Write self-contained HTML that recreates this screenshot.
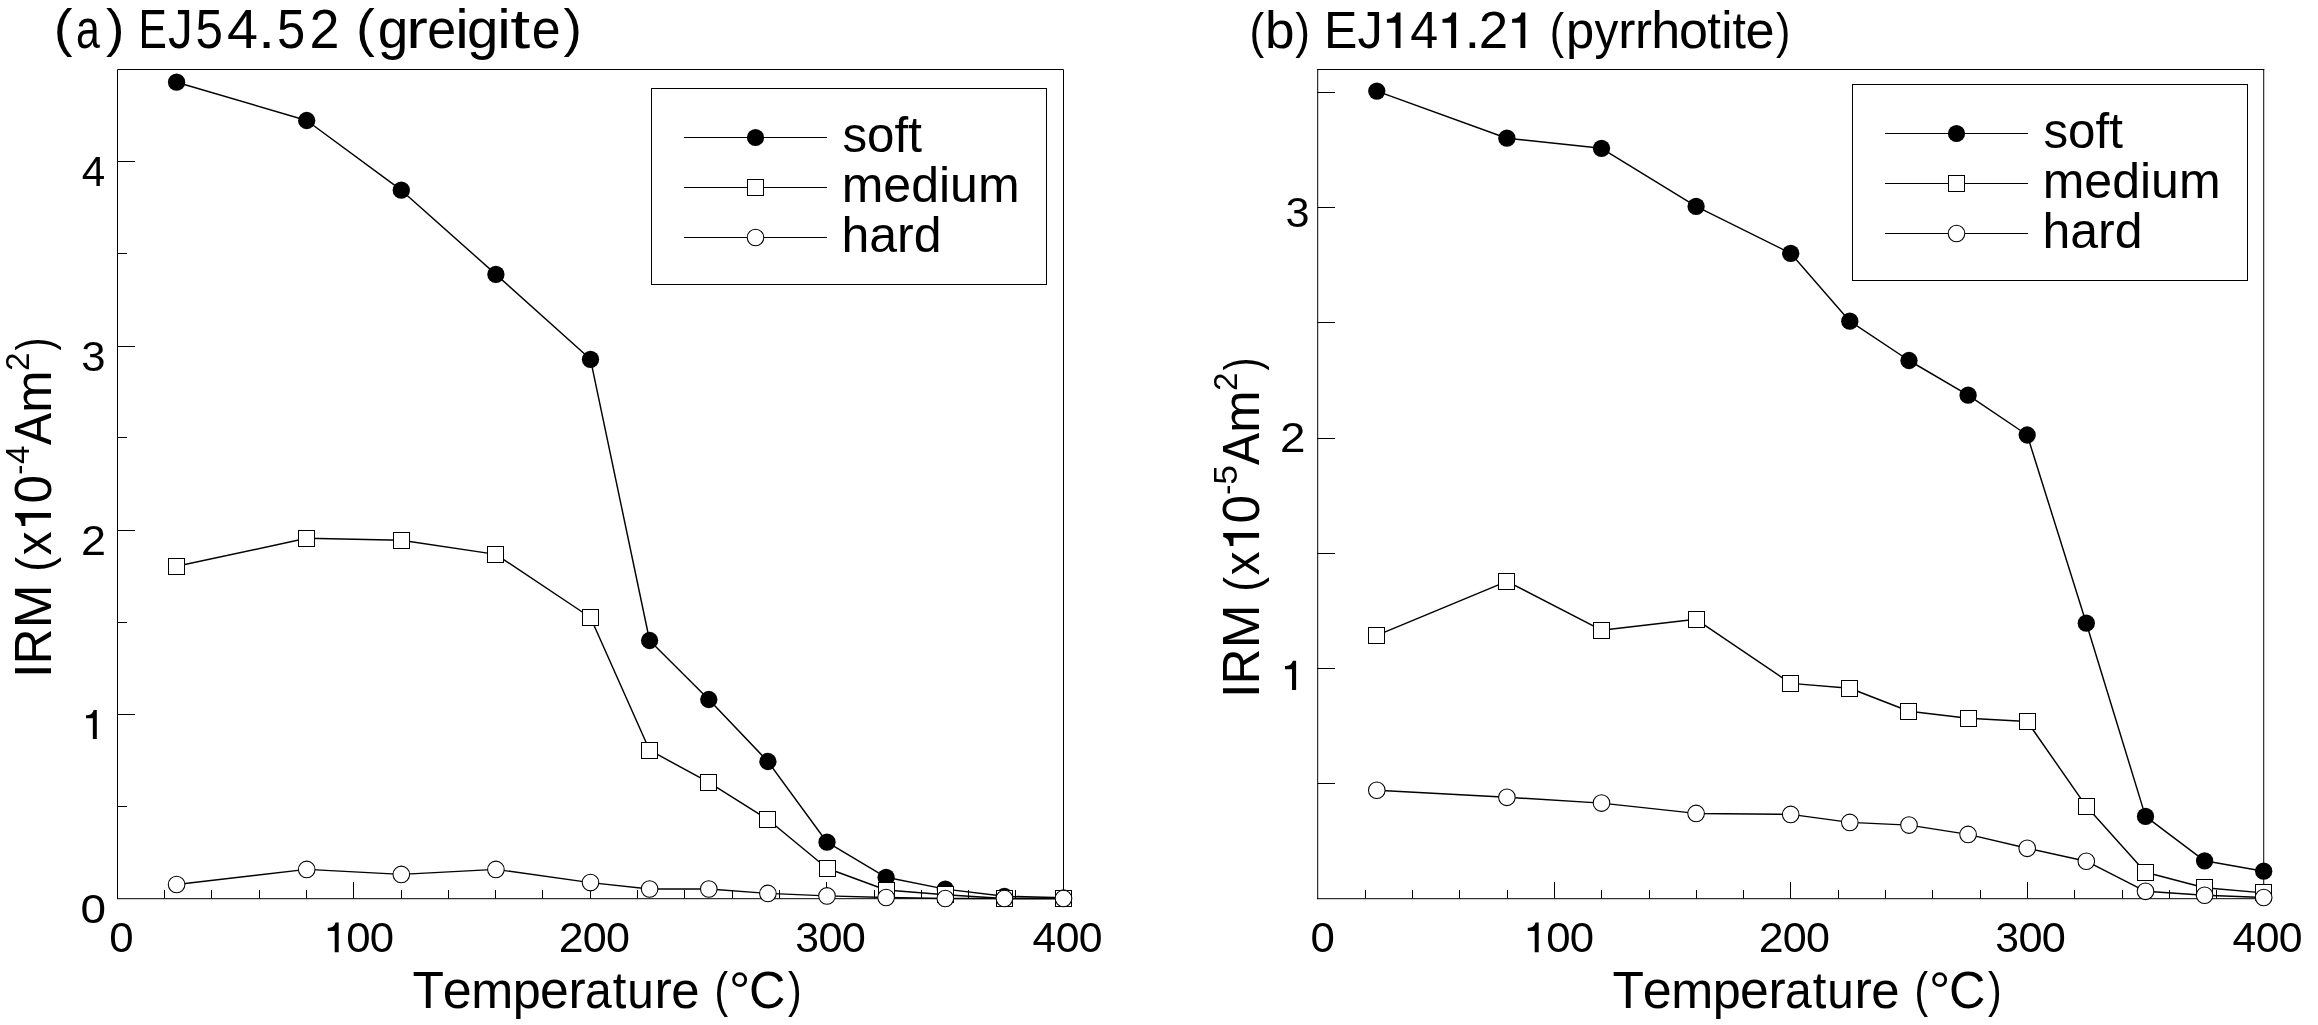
<!DOCTYPE html><html><head><meta charset="utf-8"><style>html,body{margin:0;padding:0;background:#fff;overflow:hidden}svg{display:block;will-change:transform}</style></head><body>
<svg width="2318" height="1025" viewBox="0 0 2318 1025">
<rect x="0" y="0" width="2318" height="1025" fill="#fff"/>
<g fill="none" stroke="#000" stroke-width="1">
<path d="M117.5 69.5H1063.5V898.5M117.5 69.5V898.5"/>
<path d="M117.0 898.7H1064.0"/>
<path d="M164.5 898.5V890.0M211.5 898.5V890.0M259.5 898.5V890.0M306.5 898.5V890.0M353.5 898.5V882.0M401.5 898.5V890.0M448.5 898.5V890.0M495.5 898.5V890.0M542.5 898.5V890.0M590.5 898.5V882.0M637.5 898.5V890.0M684.5 898.5V890.0M732.5 898.5V890.0M779.5 898.5V890.0M826.5 898.5V882.0M874.5 898.5V890.0M921.5 898.5V890.0M968.5 898.5V890.0M1015.5 898.5V890.0M117.5 161.5H135.0M117.5 346.5H135.0M117.5 530.5H135.0M117.5 714.5H135.0M117.5 253.5H127.0M117.5 437.5H127.0M117.5 622.5H127.0M117.5 806.5H127.0"/>
</g>
<polyline points="176.6,82.2 306.7,120.5 401.3,190.2 495.9,274.4 590.5,359.3 649.6,640.5 708.8,699.5 767.9,761.5 827.0,842.2 886.1,877.3 945.3,889.1 1004.4,896.3 1063.5,897.8" fill="none" stroke="#000" stroke-width="1.45" stroke-linejoin="round"/>
<circle cx="176.6" cy="82.2" r="8.65" fill="#000"/>
<circle cx="306.7" cy="120.5" r="8.65" fill="#000"/>
<circle cx="401.3" cy="190.2" r="8.65" fill="#000"/>
<circle cx="495.9" cy="274.4" r="8.65" fill="#000"/>
<circle cx="590.5" cy="359.3" r="8.65" fill="#000"/>
<circle cx="649.6" cy="640.5" r="8.65" fill="#000"/>
<circle cx="708.8" cy="699.5" r="8.65" fill="#000"/>
<circle cx="767.9" cy="761.5" r="8.65" fill="#000"/>
<circle cx="827.0" cy="842.2" r="8.65" fill="#000"/>
<circle cx="886.1" cy="877.3" r="8.65" fill="#000"/>
<circle cx="945.3" cy="889.1" r="8.65" fill="#000"/>
<circle cx="1004.4" cy="896.3" r="8.65" fill="#000"/>
<circle cx="1063.5" cy="897.8" r="8.65" fill="#000"/>
<polyline points="176.6,566.3 306.7,538.3 401.3,540.2 495.9,554.4 590.5,617.5 649.6,750.2 708.8,782.4 767.9,819.5 827.0,868.3 886.1,890.0 945.3,894.8 1004.4,898.5 1063.5,898.5" fill="none" stroke="#000" stroke-width="1.45" stroke-linejoin="round"/>
<rect x="168.5" y="558.5" width="16" height="16" fill="#fff" stroke="#000" stroke-width="1"/>
<rect x="298.5" y="530.5" width="16" height="16" fill="#fff" stroke="#000" stroke-width="1"/>
<rect x="393.5" y="532.5" width="16" height="16" fill="#fff" stroke="#000" stroke-width="1"/>
<rect x="487.5" y="546.5" width="16" height="16" fill="#fff" stroke="#000" stroke-width="1"/>
<rect x="582.5" y="609.5" width="16" height="16" fill="#fff" stroke="#000" stroke-width="1"/>
<rect x="641.5" y="742.5" width="16" height="16" fill="#fff" stroke="#000" stroke-width="1"/>
<rect x="700.5" y="774.5" width="16" height="16" fill="#fff" stroke="#000" stroke-width="1"/>
<rect x="759.5" y="811.5" width="16" height="16" fill="#fff" stroke="#000" stroke-width="1"/>
<rect x="819.5" y="860.5" width="16" height="16" fill="#fff" stroke="#000" stroke-width="1"/>
<rect x="878.5" y="882.5" width="16" height="16" fill="#fff" stroke="#000" stroke-width="1"/>
<rect x="937.5" y="886.5" width="16" height="16" fill="#fff" stroke="#000" stroke-width="1"/>
<rect x="996.5" y="890.5" width="16" height="16" fill="#fff" stroke="#000" stroke-width="1"/>
<rect x="1055.5" y="890.5" width="16" height="16" fill="#fff" stroke="#000" stroke-width="1"/>
<polyline points="176.6,884.5 306.7,869.4 401.3,874.4 495.9,869.4 590.5,882.6 649.6,889.0 708.8,889.0 767.9,893.4 827.0,895.9 886.1,897.5 945.3,898.5 1004.4,898.5 1063.5,898.5" fill="none" stroke="#000" stroke-width="1.45" stroke-linejoin="round"/>
<circle cx="176.6" cy="884.5" r="8.3" fill="#fff" stroke="#000" stroke-width="1.05"/>
<circle cx="306.7" cy="869.4" r="8.3" fill="#fff" stroke="#000" stroke-width="1.05"/>
<circle cx="401.3" cy="874.4" r="8.3" fill="#fff" stroke="#000" stroke-width="1.05"/>
<circle cx="495.9" cy="869.4" r="8.3" fill="#fff" stroke="#000" stroke-width="1.05"/>
<circle cx="590.5" cy="882.6" r="8.3" fill="#fff" stroke="#000" stroke-width="1.05"/>
<circle cx="649.6" cy="889.0" r="8.3" fill="#fff" stroke="#000" stroke-width="1.05"/>
<circle cx="708.8" cy="889.0" r="8.3" fill="#fff" stroke="#000" stroke-width="1.05"/>
<circle cx="767.9" cy="893.4" r="8.3" fill="#fff" stroke="#000" stroke-width="1.05"/>
<circle cx="827.0" cy="895.9" r="8.3" fill="#fff" stroke="#000" stroke-width="1.05"/>
<circle cx="886.1" cy="897.5" r="8.3" fill="#fff" stroke="#000" stroke-width="1.05"/>
<circle cx="945.3" cy="898.5" r="8.3" fill="#fff" stroke="#000" stroke-width="1.05"/>
<circle cx="1004.4" cy="898.5" r="8.3" fill="#fff" stroke="#000" stroke-width="1.05"/>
<circle cx="1063.5" cy="898.5" r="8.3" fill="#fff" stroke="#000" stroke-width="1.05"/>
<g fill="none" stroke="#000" stroke-width="1">
<path d="M1317.2 69.5H2264.22"/>
<path d="M2263.72 69.0V899.2"/>
<path d="M1317.7 69.0V899.2"/>
<path d="M1317.2 898.7H2264.22"/>
<path d="M1365.5 898.5V890.0M1412.5 898.5V890.0M1459.5 898.5V890.0M1507.5 898.5V890.0M1554.5 898.5V882.0M1601.5 898.5V890.0M1649.5 898.5V890.0M1696.5 898.5V890.0M1743.5 898.5V890.0M1790.5 898.5V882.0M1838.5 898.5V890.0M1885.5 898.5V890.0M1932.5 898.5V890.0M1980.5 898.5V890.0M2027.5 898.5V882.0M2074.5 898.5V890.0M2122.5 898.5V890.0M2169.5 898.5V890.0M2216.5 898.5V890.0M1317.5 92.5H1335.0M1317.5 207.5H1335.0M1317.5 322.5H1335.0M1317.5 438.5H1335.0M1317.5 553.5H1335.0M1317.5 668.5H1335.0M1317.5 783.5H1335.0"/>
</g>
<polyline points="1376.8,91.1 1506.9,138.2 1601.5,148.3 1696.1,206.4 1790.7,253.3 1849.8,321.2 1909.0,360.5 1968.1,395.2 2027.2,435.0 2086.3,623.2 2145.5,816.4 2204.6,860.8 2263.7,871.2" fill="none" stroke="#000" stroke-width="1.45" stroke-linejoin="round"/>
<circle cx="1376.8" cy="91.1" r="8.65" fill="#000"/>
<circle cx="1506.9" cy="138.2" r="8.65" fill="#000"/>
<circle cx="1601.5" cy="148.3" r="8.65" fill="#000"/>
<circle cx="1696.1" cy="206.4" r="8.65" fill="#000"/>
<circle cx="1790.7" cy="253.3" r="8.65" fill="#000"/>
<circle cx="1849.8" cy="321.2" r="8.65" fill="#000"/>
<circle cx="1909.0" cy="360.5" r="8.65" fill="#000"/>
<circle cx="1968.1" cy="395.2" r="8.65" fill="#000"/>
<circle cx="2027.2" cy="435.0" r="8.65" fill="#000"/>
<circle cx="2086.3" cy="623.2" r="8.65" fill="#000"/>
<circle cx="2145.5" cy="816.4" r="8.65" fill="#000"/>
<circle cx="2204.6" cy="860.8" r="8.65" fill="#000"/>
<circle cx="2263.7" cy="871.2" r="8.65" fill="#000"/>
<polyline points="1376.8,635.4 1506.9,581.3 1601.5,630.2 1696.1,619.3 1790.7,683.4 1849.8,688.3 1909.0,711.2 1968.1,718.3 2027.2,721.5 2086.3,806.3 2145.5,872.2 2204.6,887.7 2263.7,892.9" fill="none" stroke="#000" stroke-width="1.45" stroke-linejoin="round"/>
<rect x="1368.5" y="627.5" width="16" height="16" fill="#fff" stroke="#000" stroke-width="1"/>
<rect x="1498.5" y="573.5" width="16" height="16" fill="#fff" stroke="#000" stroke-width="1"/>
<rect x="1593.5" y="622.5" width="16" height="16" fill="#fff" stroke="#000" stroke-width="1"/>
<rect x="1688.5" y="611.5" width="16" height="16" fill="#fff" stroke="#000" stroke-width="1"/>
<rect x="1782.5" y="675.5" width="16" height="16" fill="#fff" stroke="#000" stroke-width="1"/>
<rect x="1841.5" y="680.5" width="16" height="16" fill="#fff" stroke="#000" stroke-width="1"/>
<rect x="1900.5" y="703.5" width="16" height="16" fill="#fff" stroke="#000" stroke-width="1"/>
<rect x="1960.5" y="710.5" width="16" height="16" fill="#fff" stroke="#000" stroke-width="1"/>
<rect x="2019.5" y="713.5" width="16" height="16" fill="#fff" stroke="#000" stroke-width="1"/>
<rect x="2078.5" y="798.5" width="16" height="16" fill="#fff" stroke="#000" stroke-width="1"/>
<rect x="2137.5" y="864.5" width="16" height="16" fill="#fff" stroke="#000" stroke-width="1"/>
<rect x="2196.5" y="879.5" width="16" height="16" fill="#fff" stroke="#000" stroke-width="1"/>
<rect x="2255.5" y="884.5" width="16" height="16" fill="#fff" stroke="#000" stroke-width="1"/>
<polyline points="1376.8,790.2 1506.9,797.3 1601.5,803.1 1696.1,813.4 1790.7,814.4 1849.8,822.4 1909.0,825.1 1968.1,834.4 2027.2,848.3 2086.3,861.2 2145.5,891.3 2204.6,895.2 2263.7,897.5" fill="none" stroke="#000" stroke-width="1.45" stroke-linejoin="round"/>
<circle cx="1376.8" cy="790.2" r="8.3" fill="#fff" stroke="#000" stroke-width="1.05"/>
<circle cx="1506.9" cy="797.3" r="8.3" fill="#fff" stroke="#000" stroke-width="1.05"/>
<circle cx="1601.5" cy="803.1" r="8.3" fill="#fff" stroke="#000" stroke-width="1.05"/>
<circle cx="1696.1" cy="813.4" r="8.3" fill="#fff" stroke="#000" stroke-width="1.05"/>
<circle cx="1790.7" cy="814.4" r="8.3" fill="#fff" stroke="#000" stroke-width="1.05"/>
<circle cx="1849.8" cy="822.4" r="8.3" fill="#fff" stroke="#000" stroke-width="1.05"/>
<circle cx="1909.0" cy="825.1" r="8.3" fill="#fff" stroke="#000" stroke-width="1.05"/>
<circle cx="1968.1" cy="834.4" r="8.3" fill="#fff" stroke="#000" stroke-width="1.05"/>
<circle cx="2027.2" cy="848.3" r="8.3" fill="#fff" stroke="#000" stroke-width="1.05"/>
<circle cx="2086.3" cy="861.2" r="8.3" fill="#fff" stroke="#000" stroke-width="1.05"/>
<circle cx="2145.5" cy="891.3" r="8.3" fill="#fff" stroke="#000" stroke-width="1.05"/>
<circle cx="2204.6" cy="895.2" r="8.3" fill="#fff" stroke="#000" stroke-width="1.05"/>
<circle cx="2263.7" cy="897.5" r="8.3" fill="#fff" stroke="#000" stroke-width="1.05"/>
<rect x="651.5" y="88.5" width="395.0" height="196.0" fill="#fff" stroke="#000" stroke-width="1"/>
<path d="M684 137.5H827" stroke="#000" stroke-width="1"/>
<circle cx="755.5" cy="137.5" r="8.6" fill="#000"/>
<path d="M684 187.5H827" stroke="#000" stroke-width="1"/>
<rect x="747.5" y="179.5" width="16" height="16" fill="#fff" stroke="#000" stroke-width="1"/>
<path d="M684 237.5H827" stroke="#000" stroke-width="1"/>
<circle cx="755.5" cy="237.5" r="8.3" fill="#fff" stroke="#000" stroke-width="1.05"/>
<rect x="1852.5" y="84.5" width="395.0" height="196.0" fill="#fff" stroke="#000" stroke-width="1"/>
<path d="M1885 133.5H2028" stroke="#000" stroke-width="1"/>
<circle cx="1956.5" cy="133.5" r="8.6" fill="#000"/>
<path d="M1885 183.5H2028" stroke="#000" stroke-width="1"/>
<rect x="1948.5" y="175.5" width="16" height="16" fill="#fff" stroke="#000" stroke-width="1"/>
<path d="M1885 233.5H2028" stroke="#000" stroke-width="1"/>
<circle cx="1956.5" cy="233.5" r="8.3" fill="#fff" stroke="#000" stroke-width="1.05"/>
<g font-family="Liberation Sans, sans-serif" fill="#000" stroke="none">
<text transform="translate(109.33,951.93) scale(1.0307,0.9933)" font-size="42.5">0</text>
<text transform="translate(346.14,951.92) scale(1.0297,1)" font-size="42.5">0</text>
<text transform="translate(369.75,951.92) scale(1.0297,1)" font-size="42.5">0</text>
<text transform="translate(558.76,952.30) scale(1.0554,1)" font-size="42.5">2</text>
<text transform="translate(582.78,951.92) scale(1.0132,1)" font-size="42.5">0</text>
<text transform="translate(606.01,951.92) scale(1.0132,1)" font-size="42.5">0</text>
<text transform="translate(795.36,951.92) scale(1.0072,1)" font-size="42.5">3</text>
<text transform="translate(818.41,951.92) scale(1.0191,1)" font-size="42.5">0</text>
<text transform="translate(841.78,951.92) scale(1.0191,1)" font-size="42.5">0</text>
<text x="1032.60" y="952.30" font-size="42.5">4</text>
<text transform="translate(1055.81,951.92) scale(1.0059,1)" font-size="42.5">0</text>
<text transform="translate(1078.87,951.92) scale(1.0059,1)" font-size="42.5">0</text>
<text transform="translate(1310.43,951.93) scale(1.0307,0.9933)" font-size="42.5">0</text>
<text transform="translate(1546.14,951.92) scale(1.0297,1)" font-size="42.5">0</text>
<text transform="translate(1569.75,951.92) scale(1.0297,1)" font-size="42.5">0</text>
<text transform="translate(1758.76,952.30) scale(1.0554,1)" font-size="42.5">2</text>
<text transform="translate(1782.78,951.92) scale(1.0132,1)" font-size="42.5">0</text>
<text transform="translate(1806.01,951.92) scale(1.0132,1)" font-size="42.5">0</text>
<text transform="translate(1995.36,951.92) scale(1.0072,1)" font-size="42.5">3</text>
<text transform="translate(2018.41,951.92) scale(1.0191,1)" font-size="42.5">0</text>
<text transform="translate(2041.78,951.92) scale(1.0191,1)" font-size="42.5">0</text>
<text x="2232.60" y="952.30" font-size="42.5">4</text>
<text transform="translate(2255.81,951.92) scale(1.0059,1)" font-size="42.5">0</text>
<text transform="translate(2278.87,951.92) scale(1.0059,1)" font-size="42.5">0</text>
<text transform="translate(80.55,923.43) scale(1.0798,0.9767)" font-size="42.5">0</text>
<text transform="translate(80.95,554.80) scale(1.0581,0.9992)" font-size="42.5">2</text>
<text transform="translate(81.23,371.32) scale(1.0286,1.0200)" font-size="42.5">3</text>
<text transform="translate(81.71,186.00) scale(0.9918,1.0120)" font-size="42.5">4</text>
<text transform="translate(1279.91,452.00) scale(1.0787,1.0059)" font-size="42.5">2</text>
<text transform="translate(1285.44,227.22) scale(1.0186,1.0133)" font-size="42.5">3</text>
<text transform="translate(53.63,46.00) scale(1.0276,0.9580)" font-size="55">(</text>
<text transform="translate(75.95,48.10) scale(0.7788,1)" font-size="55">a</text>
<text transform="translate(105.92,46.00) scale(1.0069,0.9580)" font-size="55">)</text>
<text transform="translate(138.62,48.10) scale(0.7732,1)" font-size="55">E</text>
<text transform="translate(168.01,48.10) scale(0.9022,1)" font-size="55">J</text>
<text transform="translate(195.48,48.10) scale(0.8962,1)" font-size="55">5</text>
<text transform="translate(227.03,48.10) scale(1.0126,1)" font-size="55">4</text>
<text transform="translate(257.88,48.10) scale(1.1238,1)" font-size="55">.</text>
<text transform="translate(276.92,48.10) scale(0.9231,1)" font-size="55">5</text>
<text transform="translate(309.41,48.10) scale(0.9791,1)" font-size="55">2</text>
<text transform="translate(355.93,46.00) scale(1.0276,0.9580)" font-size="55">(</text>
<text x="377.65" y="48.10" font-size="55">g</text>
<text transform="translate(406.33,48.10) scale(1.1782,1)" font-size="55">r</text>
<text transform="translate(427.26,48.10) scale(0.9437,1)" font-size="55">e</text>
<text transform="translate(455.18,48.10) scale(1.1077,1)" font-size="55">i</text>
<text transform="translate(467.09,48.10) scale(1.0263,1)" font-size="55">g</text>
<text transform="translate(497.18,48.10) scale(1.1077,1)" font-size="55">i</text>
<text transform="translate(510.36,48.10) scale(1.3071,1)" font-size="55">t</text>
<text transform="translate(531.86,48.10) scale(0.9437,1)" font-size="55">e</text>
<text transform="translate(563.42,46.00) scale(1.0069,0.9580)" font-size="55">)</text>
<text transform="translate(1249.53,47.67) scale(0.8514,0.9608)" font-size="52">(</text>
<text transform="translate(1265.05,48.00) scale(1.0225,1)" font-size="52">b</text>
<text transform="translate(1295.28,47.67) scale(0.8509,0.9608)" font-size="52">)</text>
<text transform="translate(1323.91,48.00) scale(0.9628,1)" font-size="52">E</text>
<text transform="translate(1357.55,48.00) scale(0.9741,1)" font-size="52">J</text>
<text transform="translate(1410.29,48.00) scale(0.9646,1)" font-size="52">4</text>
<text transform="translate(1464.28,48.00) scale(1.1200,1)" font-size="52">.</text>
<text transform="translate(1478.73,48.00) scale(1.0159,1)" font-size="52">2</text>
<text transform="translate(1549.80,47.67) scale(0.8294,0.9608)" font-size="52">(</text>
<text transform="translate(1565.91,48.00) scale(0.9754,1)" font-size="52">p</text>
<text transform="translate(1594.39,48.00) scale(0.9165,1)" font-size="52">y</text>
<text transform="translate(1618.33,48.00) scale(0.9923,1)" font-size="52">r</text>
<text transform="translate(1635.05,48.00) scale(0.9846,1)" font-size="52">r</text>
<text x="1651.29" y="48.00" font-size="52">h</text>
<text x="1678.98" y="48.00" font-size="52">o</text>
<text transform="translate(1707.29,48.00) scale(0.9421,1)" font-size="52">t</text>
<text transform="translate(1721.28,48.00) scale(0.9778,1)" font-size="52">i</text>
<text transform="translate(1732.40,48.00) scale(0.9271,1)" font-size="52">t</text>
<text transform="translate(1745.54,48.00) scale(1.0051,1)" font-size="52">e</text>
<text transform="translate(1775.89,47.67) scale(0.8291,0.9608)" font-size="52">)</text>
<text transform="translate(412.49,1007.50) scale(0.9857,1)" font-size="52.3">T</text>
<text transform="translate(442.66,1007.50) scale(0.9959,1)" font-size="52.3">e</text>
<text transform="translate(471.13,1007.50) scale(0.9638,1)" font-size="52.3">m</text>
<text transform="translate(512.75,1007.50) scale(0.9617,1)" font-size="52.3">p</text>
<text transform="translate(540.08,1007.50) scale(0.9878,1)" font-size="52.3">e</text>
<text transform="translate(568.55,1007.50) scale(0.9846,1)" font-size="52.3">r</text>
<text transform="translate(585.03,1007.50) scale(0.9191,1)" font-size="52.3">a</text>
<text transform="translate(612.80,1007.50) scale(0.9346,1)" font-size="52.3">t</text>
<text transform="translate(627.22,1007.50) scale(0.9124,1)" font-size="52.3">u</text>
<text transform="translate(654.43,1007.50) scale(0.9923,1)" font-size="52.3">r</text>
<text transform="translate(671.21,1007.50) scale(0.9755,1)" font-size="52.3">e</text>
<text transform="translate(714.45,1006.62) scale(0.7855,0.9456)" font-size="52.3">(</text>
<text transform="translate(728.92,1008.85) scale(1.0188,1.0069)" font-size="52.3">°</text>
<text transform="translate(748.97,1007.50) scale(0.9630,1)" font-size="52.3">C</text>
<text transform="translate(787.91,1006.62) scale(0.7855,0.9456)" font-size="52.3">)</text>
<text transform="translate(1612.49,1007.50) scale(0.9857,1)" font-size="52.3">T</text>
<text transform="translate(1642.66,1007.50) scale(0.9959,1)" font-size="52.3">e</text>
<text transform="translate(1671.13,1007.50) scale(0.9638,1)" font-size="52.3">m</text>
<text transform="translate(1712.75,1007.50) scale(0.9617,1)" font-size="52.3">p</text>
<text transform="translate(1740.08,1007.50) scale(0.9878,1)" font-size="52.3">e</text>
<text transform="translate(1768.55,1007.50) scale(0.9846,1)" font-size="52.3">r</text>
<text transform="translate(1785.03,1007.50) scale(0.9191,1)" font-size="52.3">a</text>
<text transform="translate(1812.80,1007.50) scale(0.9346,1)" font-size="52.3">t</text>
<text transform="translate(1827.22,1007.50) scale(0.9124,1)" font-size="52.3">u</text>
<text transform="translate(1854.43,1007.50) scale(0.9923,1)" font-size="52.3">r</text>
<text transform="translate(1871.21,1007.50) scale(0.9755,1)" font-size="52.3">e</text>
<text transform="translate(1914.45,1006.62) scale(0.7855,0.9456)" font-size="52.3">(</text>
<text transform="translate(1928.92,1008.85) scale(1.0188,1.0069)" font-size="52.3">°</text>
<text transform="translate(1948.97,1007.50) scale(0.9630,1)" font-size="52.3">C</text>
<text transform="translate(1987.91,1006.62) scale(0.7855,0.9456)" font-size="52.3">)</text>
<text transform="translate(842.44,151.70) scale(0.9864,1)" font-size="50">soft</text>
<text x="841.72" y="201.70" font-size="50">medium</text>
<text x="841.49" y="251.70" font-size="50">hard</text>
<text transform="translate(2043.44,147.70) scale(0.9864,1)" font-size="50">soft</text>
<text x="2042.72" y="197.70" font-size="50">medium</text>
<text x="2042.49" y="247.70" font-size="50">hard</text>
<path transform="translate(327.80,922.50) scale(0.9991,1.0276)" d="M6.9,29 V8.3 H0 V5.2 C3.6,5.2 6.6,4.2 7.7,0 H10.9 V29 Z"/>
<path transform="translate(1527.80,922.50) scale(0.9991,1.0276)" d="M6.9,29 V8.3 H0 V5.2 C3.6,5.2 6.6,4.2 7.7,0 H10.9 V29 Z"/>
<path transform="translate(86.00,710.00) scale(0.9908,0.9966)" d="M6.9,29 V8.3 H0 V5.2 C3.6,5.2 6.6,4.2 7.7,0 H10.9 V29 Z"/>
<path transform="translate(1285.00,660.80) scale(1.0183,1.0034)" d="M6.9,29 V8.3 H0 V5.2 C3.6,5.2 6.6,4.2 7.7,0 H10.9 V29 Z"/>
<path transform="translate(1386.90,12.60) scale(1.2477,1.2207)" d="M6.9,29 V8.3 H0 V5.2 C3.6,5.2 6.6,4.2 7.7,0 H10.9 V29 Z"/>
<path transform="translate(1442.50,12.60) scale(1.2477,1.2207)" d="M6.9,29 V8.3 H0 V5.2 C3.6,5.2 6.6,4.2 7.7,0 H10.9 V29 Z"/>
<path transform="translate(1512.10,12.60) scale(1.2110,1.2207)" d="M6.9,29 V8.3 H0 V5.2 C3.6,5.2 6.6,4.2 7.7,0 H10.9 V29 Z"/>
<text transform="translate(51.00,700.0) rotate(-90) translate(21.73,0) scale(1.0256,1)" font-size="52">I</text>
<text transform="translate(51.00,700.0) rotate(-90) translate(35.77,0) scale(0.9490,1)" font-size="52">R</text>
<text transform="translate(51.00,700.0) rotate(-90) translate(71.79,0) scale(1.0129,1)" font-size="52">M</text>
<text transform="translate(51.00,700.0) rotate(-90) translate(128.13,-0.37) scale(0.8514,0.9649)" font-size="52">(</text>
<text transform="translate(51.00,700.0) rotate(-90) translate(144.63,0) scale(0.9131,1)" font-size="52">x</text>
<g transform="translate(51.00,700.0) rotate(-90)"><path transform="translate(173.90,-35.90) scale(1.1927,1.2379)" d="M6.9,29 V8.3 H0 V5.2 C3.6,5.2 6.6,4.2 7.7,0 H10.9 V29 Z"/></g>
<text transform="translate(51.00,700.0) rotate(-90) translate(196.52,0) scale(0.9889,1)" font-size="52">0</text>
<text transform="translate(29.00,700.0) rotate(-90) translate(225.21,0) scale(0.9375,1)" font-size="32.3">-</text>
<text transform="translate(29.00,700.0) rotate(-90) translate(236.02,0) scale(1.0338,1)" font-size="32.3">4</text>
<text transform="translate(51.00,700.0) rotate(-90) translate(255.08,0) scale(0.9222,1)" font-size="52">A</text>
<text transform="translate(51.00,700.0) rotate(-90) translate(287.28,0) scale(0.9759,1)" font-size="52">m</text>
<text transform="translate(29.00,700.0) rotate(-90) translate(329.03,0) scale(1.0305,1)" font-size="32.3">2</text>
<text transform="translate(51.00,700.0) rotate(-90) translate(349.42,-0.37) scale(0.7418,0.9649)" font-size="52">)</text>
<text transform="translate(1259.10,700.0) rotate(-90) translate(1.73,0) scale(1.0256,1)" font-size="52">I</text>
<text transform="translate(1259.10,700.0) rotate(-90) translate(15.77,0) scale(0.9490,1)" font-size="52">R</text>
<text transform="translate(1259.10,700.0) rotate(-90) translate(51.79,0) scale(1.0129,1)" font-size="52">M</text>
<text transform="translate(1259.10,700.0) rotate(-90) translate(108.13,-0.37) scale(0.8514,0.9649)" font-size="52">(</text>
<text transform="translate(1259.10,700.0) rotate(-90) translate(124.63,0) scale(0.9131,1)" font-size="52">x</text>
<g transform="translate(1259.10,700.0) rotate(-90)"><path transform="translate(153.90,-35.90) scale(1.1927,1.2379)" d="M6.9,29 V8.3 H0 V5.2 C3.6,5.2 6.6,4.2 7.7,0 H10.9 V29 Z"/></g>
<text transform="translate(1259.10,700.0) rotate(-90) translate(176.52,0) scale(0.9889,1)" font-size="52">0</text>
<text transform="translate(1237.10,700.0) rotate(-90) translate(205.21,0) scale(0.9375,1)" font-size="32.3">-</text>
<text transform="translate(1237.10,700.0) rotate(-90) translate(215.29,0) scale(1.1016,1)" font-size="32.3">5</text>
<text transform="translate(1259.10,700.0) rotate(-90) translate(235.08,0) scale(0.9222,1)" font-size="52">A</text>
<text transform="translate(1259.10,700.0) rotate(-90) translate(267.28,0) scale(0.9759,1)" font-size="52">m</text>
<text transform="translate(1237.10,700.0) rotate(-90) translate(309.03,0) scale(1.0305,1)" font-size="32.3">2</text>
<text transform="translate(1259.10,700.0) rotate(-90) translate(329.42,-0.37) scale(0.7418,0.9649)" font-size="52">)</text>
</g>
</svg>
</body></html>
